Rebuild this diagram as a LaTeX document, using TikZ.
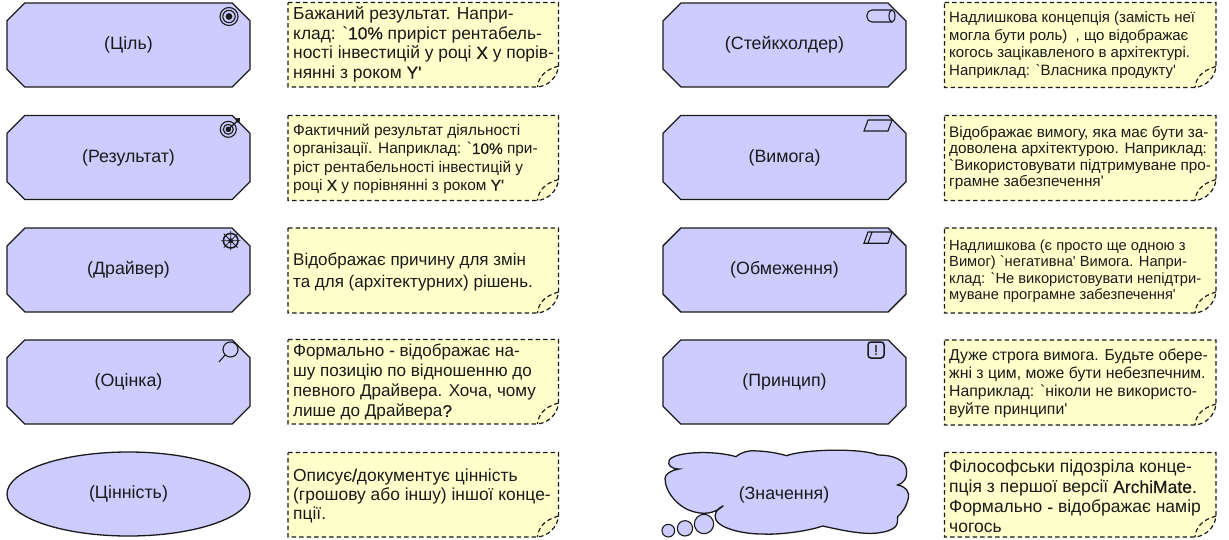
\documentclass[tikz,border=0pt]{standalone}
\usepackage{fontspec}
\setmainfont{Liberation Sans}
\newfontfamily\plainf{Liberation Sans}
\newfontfamily\lat[FakeBold=0.4]{Liberation Sans}
\AtBeginDocument{\plainf}
\usetikzlibrary{shapes.geometric,shapes.misc}
\definecolor{boxfill}{HTML}{CCCCFF}
\definecolor{notefill}{HTML}{FFFFCC}
\definecolor{ink}{HTML}{1A1A1A}
\tikzset{
  elem/.style={draw=ink,line width=1.3pt,fill=boxfill,chamfered rectangle,chamfered rectangle xsep=9.5pt,chamfered rectangle ysep=9.5pt,minimum width=243pt,minimum height=84pt,inner sep=0pt,outer sep=0pt,text=ink,font=\plainf\fontsize{17.8}{20}\selectfont},
  oval/.style={draw=ink,line width=1.3pt,fill=boxfill,ellipse,minimum width=243pt,minimum height=84pt,inner sep=0pt,text=ink,font=\plainf\fontsize{17.8}{20}\selectfont},
  lab/.style={text=ink,font=\plainf\fontsize{17.8}{20}\selectfont,inner sep=0pt},
  notedash/.style={draw=ink,line width=1.2pt,dash pattern=on 4.5pt off 3pt},
  notetxt/.style={inner sep=0pt,anchor=west,align=left,text=ink},
  icon/.style={draw=ink,line width=1.1pt}
}
\newcommand{\notebg}[4]{% x, top, w, h
  \pgfmathsetmacro{\nR}{#1+#3}\pgfmathsetmacro{\nB}{#2+#4}
  \fill[notefill] (#1,#2) -- (\nR,#2) -- (\nR,\nB-21) .. controls (\nR-1,\nB-10) and (\nR-10,\nB-1) .. (\nR-21,\nB) -- (#1,\nB) -- cycle;
  \draw[notedash] (#1,#2) -- (\nR,#2) -- (\nR,\nB-21) .. controls (\nR-1,\nB-10) and (\nR-10,\nB-1) .. (\nR-21,\nB) -- (#1,\nB) -- cycle;
  \draw[notedash] (\nR,\nB-21) .. controls (\nR-14,\nB-17) and (\nR-20,\nB-10) .. (\nR-21,\nB);
}
\begin{document}
\begin{tikzpicture}[x=1pt,y=-1pt]
\useasboundingbox (0,0) rectangle (1229,539);
% left column elements
\node[elem] (goal) at (128.5,45) {(Ціль)};
\node[elem] (outcome) at (128.5,157.5) {(Результат)};
\node[elem] (driver) at (128.5,270) {(Драйвер)};
\node[elem] (assessment) at (128.5,382) {(Оцінка)};
\node[oval] (value) at (128.5,494) {(Цінність)};
% right column elements
\node[elem] (stakeholder) at (784.5,45) {(Стейкхолдер)};
\node[elem] (requirement) at (784.5,157.5) {(Вимога)};
\node[elem] (constraint) at (784.5,270) {(Обмеження)};
\node[elem] (principle) at (784.5,382) {(Принцип)};
% cloud
\begin{scope}[shift={(630,400)},x=0.3333pt,y=-0.3333pt]
\draw[draw=ink,line width=1.3pt,fill=boxfill] (147,207) .. controls (125,207) and (110,195) .. (118,180)
 .. controls (135,155) and (250,150) .. (318,170)
 .. controls (335,155) and (365,150) .. (378,153) .. controls (410,153) and (445,160) .. (470,167)
 .. controls (520,148) and (690,143) .. (745,165)
 .. controls (790,165) and (830,180) .. (830,215) .. controls (832,235) and (820,250) .. (803,255)
 .. controls (830,260) and (840,280) .. (835,295) .. controls (830,320) and (815,340) .. (803,350)
 .. controls (803,360) and (803,370) .. (800,375) .. controls (790,395) and (740,402) .. (710,400)
 .. controls (665,398) and (610,385) .. (578,378) .. controls (530,395) and (440,405) .. (400,402)
 .. controls (340,403) and (270,385) .. (258,360) .. controls (250,345) and (260,325) .. (280,317)
 .. controls (250,345) and (215,342) .. (190,335) .. controls (150,325) and (105,280) .. (105,235)
 .. controls (105,222) and (125,210) .. (147,207) -- cycle;
\draw[draw=ink,line width=1.1pt,fill=boxfill] (115,392) circle[radius=19];
\draw[draw=ink,line width=1.1pt,fill=boxfill] (165,385) circle[radius=23];
\draw[draw=ink,line width=1.1pt,fill=boxfill] (222,372) circle[radius=29];
\end{scope}
\node[lab] (meaning) at (784,495) {(Значення)};
% icons
\draw[icon] (229,16.5) circle[radius=9] (229,16.5) circle[radius=6.2];
\fill[ink] (229,16.5) circle[radius=3.4];
\draw[icon] (228.3,129.3) circle[radius=8] (228.3,129.3) circle[radius=5];
\fill[ink] (228.3,129.3) circle[radius=2.8];
\draw[ink,line width=1.3pt] (229,128.5) -- (238,120.5);
\fill[ink] (235,118.5) -- (240,118) -- (239.5,123) -- (236.5,122) -- cycle;
\draw[ink,line width=1.5pt] (230.7,240.7) circle[radius=7.3];
\fill[ink] (230.7,240.7) circle[radius=2.4];
\draw[ink,line width=0.8pt] (221,240.7) -- (240.4,240.7) (230.7,231) -- (230.7,250.4) (223.8,233.8) -- (237.6,247.6) (237.6,233.8) -- (223.8,247.6);
\draw[icon] (230.5,349.5) circle[radius=7.5];
\draw[icon] (225.2,354.8) -- (219,362);
\draw[icon,rounded corners=5pt] (892,10) -- (867,10) -- (867,22) -- (892,22);
\draw[icon] (892,16) ellipse[x radius=3,y radius=6];
\draw[icon] (868,120) -- (892,120) -- (888,131) -- (864,131) -- cycle;
\draw[icon] (868,232) -- (892,232) -- (888,243.2) -- (864,243.2) -- cycle;
\draw[icon] (872,232) -- (868,243.2);
\draw[icon,rounded corners=3pt,line width=1.5pt] (868,342) rectangle (884,358);
\node[inner sep=0pt,text=ink,font=\lat\fontsize{14}{14}\selectfont] (bang) at (876,350) {!};
% notes
\notebg{288}{2.5}{270.5}{84.5}
\node[notetxt,font=\fontsize{17.4}{19.6}\selectfont] (n1) at (293,44.5) {Бажаний результат. Напри-\\клад: `{\lat 10\%} приріст рентабель-\\ності інвестицій у році {\lat X} у порів-\\нянні з роком {\lat Y'}};
\notebg{288}{115.5}{270.5}{85}
\node[notetxt,font=\fontsize{15.4}{18.3}\selectfont] (n2) at (293,159) {Фактичний результат діяльності\\організації. Наприклад: `{\lat 10\%} при-\\ріст рентабельності інвестицій у\\році {\lat X} у порівнянні з роком {\lat Y'}};
\notebg{288}{228}{270.5}{85}
\node[notetxt,font=\fontsize{17}{22.6}\selectfont] (n3) at (293,272) {Відображає причину для змін\\та для (архітектурних) рішень.};
\notebg{288}{339.5}{270.5}{84.5}
\node[notetxt,font=\fontsize{17.1}{20.3}\selectfont] (n4) at (293,382) {Формально {\lat -} відображає на-\\шу позицію по відношенню до\\певного Драйвера. Хоча, чому\\лише до Драйвера{\lat ?}};
\notebg{288}{452.5}{270.5}{84.5}
\node[notetxt,font=\fontsize{17.4}{19.2}\selectfont] (n5) at (293,496) {Описує{\lat /}документує цінність\\(грошову або іншу) іншої конце-\\пції.};
\notebg{944.5}{2.5}{271.5}{85}
\node[notetxt,font=\fontsize{15}{17.7}\selectfont] (n6) at (949,45) {Надлишкова концепція (замість неї\\могла бути роль)\ \ , що відображає\\когось зацікавленого в архітектурі.\\Наприклад: `Власника продукту'};
\notebg{944.5}{115.5}{271.5}{85}
\node[notetxt,font=\fontsize{15.3}{16.5}\selectfont] (n7) at (949,158) {Відображає вимогу, яка має бути за-\\доволена архітектурою. Наприклад:\\`Використовувати підтримуване про-\\грамне забезпечення'};
\notebg{944.5}{228}{271.5}{85}
\node[notetxt,font=\fontsize{14.7}{16.5}\selectfont] (n8) at (949,271) {Надлишкова (є просто ще одною з\\Вимог) `негативна' Вимога. Напри-\\клад: `Не використовувати непідтри-\\муване програмне забезпечення'};
\notebg{944.5}{340}{271.5}{85}
\node[notetxt,font=\fontsize{15.8}{18}\selectfont] (n9) at (949,383) {Дуже строга вимога. Будьте обере-\\жні з цим, може бути небезпечним.\\Наприклад: `ніколи не використо-\\вуйте принципи'};
\notebg{944.5}{452.5}{271.5}{84.5}
\node[notetxt,font=\fontsize{17.5}{20}\selectfont] (n10) at (949,496.7) {Філософськи підозріла конце-\\пція з першої версії {\lat ArchiMate.}\\Формально {\lat -} відображає намір\\чогось};
\end{tikzpicture}
\end{document}
